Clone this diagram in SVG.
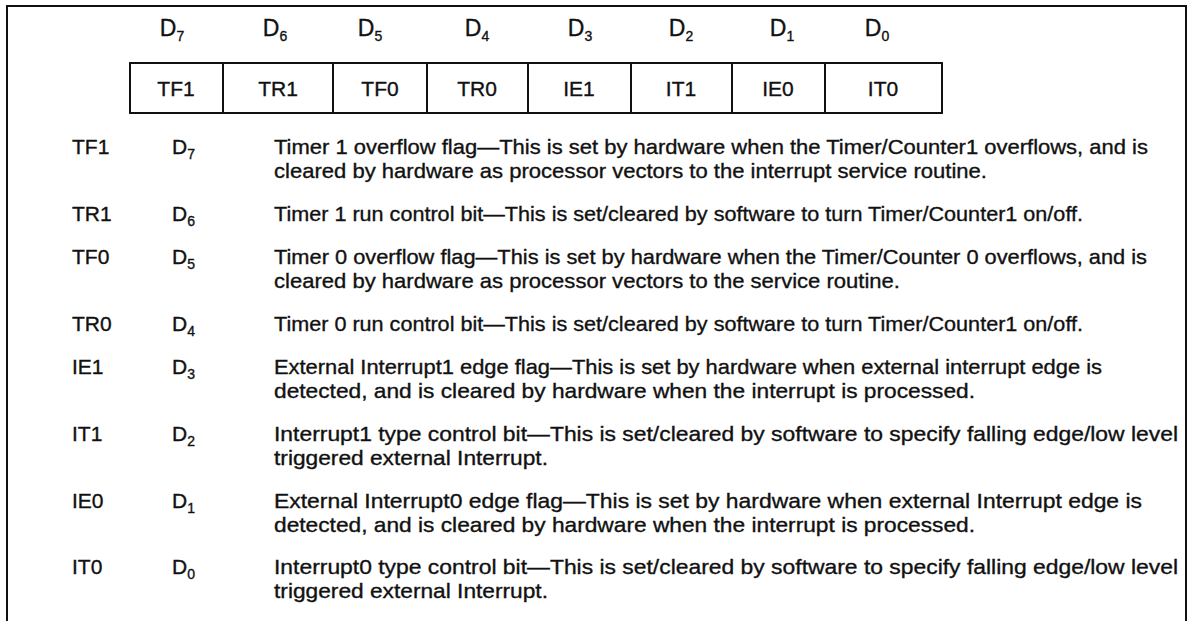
<svg xmlns="http://www.w3.org/2000/svg" width="1189" height="621" viewBox="0 0 1189 621">
  <style>
    text { font-family: "Liberation Sans", Arial, Helvetica, sans-serif; fill: #111; stroke: #111; stroke-width: 0.35; }
    .hdr { font-size: 23px; text-anchor: middle; }
    .cell { font-size: 21px; text-anchor: middle; }
    .body { font-size: 21px; }
    .sub { font-size: 14px; }
    .line { fill: none; stroke: #111; stroke-width: 2; }
  </style>

  <!-- outer frame, open at the bottom -->
  <path class="line" d="M7,621 V6 H1186 V621"/>

  <!-- bit numbers above the register -->
  <g id="bit-numbers">
    <text class="hdr" x="172" y="36">D<tspan class="sub" dy="5">7</tspan></text>
    <text class="hdr" x="275" y="36">D<tspan class="sub" dy="5">6</tspan></text>
    <text class="hdr" x="370" y="36">D<tspan class="sub" dy="5">5</tspan></text>
    <text class="hdr" x="477" y="36">D<tspan class="sub" dy="5">4</tspan></text>
    <text class="hdr" x="580" y="36">D<tspan class="sub" dy="5">3</tspan></text>
    <text class="hdr" x="681" y="36">D<tspan class="sub" dy="5">2</tspan></text>
    <text class="hdr" x="782" y="36">D<tspan class="sub" dy="5">1</tspan></text>
    <text class="hdr" x="877" y="36">D<tspan class="sub" dy="5">0</tspan></text>
  </g>

  <!-- TCON register cells -->
  <g id="register">
    <rect class="line" x="130" y="63" width="812" height="50"/>
    <path class="line" d="M223,63 V113 M333,63 V113 M427,63 V113 M528,63 V113 M631,63 V113 M732,63 V113 M825,63 V113"/>
    <g id="cell-TF1"><text class="cell" x="176" y="96">TF1</text></g>
    <g id="cell-TR1"><text class="cell" x="278" y="96">TR1</text></g>
    <g id="cell-TF0"><text class="cell" x="380" y="96">TF0</text></g>
    <g id="cell-TR0"><text class="cell" x="477" y="96">TR0</text></g>
    <g id="cell-IE1"><text class="cell" x="579" y="96">IE1</text></g>
    <g id="cell-IT1"><text class="cell" x="681" y="96">IT1</text></g>
    <g id="cell-IE0"><text class="cell" x="778" y="96">IE0</text></g>
    <g id="cell-IT0"><text class="cell" x="883" y="96">IT0</text></g>
  </g>

  <g id="connectors"/>

  <!-- bit descriptions -->
  <g id="desc-TF1">
    <text class="body" x="72" y="154">TF1</text>
    <text class="body" x="172" y="154">D<tspan class="sub" dy="5">7</tspan></text>
    <text class="body" x="274" y="154" textLength="874" lengthAdjust="spacingAndGlyphs">Timer 1 overflow flag—This is set by hardware when the Timer/Counter1 overflows, and is</text>
    <text class="body" x="274" y="178" textLength="713" lengthAdjust="spacingAndGlyphs">cleared by hardware as processor vectors to the interrupt service routine.</text>
  </g>
  <g id="desc-TR1">
    <text class="body" x="72" y="221">TR1</text>
    <text class="body" x="172" y="221">D<tspan class="sub" dy="5">6</tspan></text>
    <text class="body" x="274" y="221" textLength="809" lengthAdjust="spacingAndGlyphs">Timer 1 run control bit—This is set/cleared by software to turn Timer/Counter1 on/off.</text>
  </g>
  <g id="desc-TF0">
    <text class="body" x="72" y="264">TF0</text>
    <text class="body" x="172" y="264">D<tspan class="sub" dy="5">5</tspan></text>
    <text class="body" x="274" y="264" textLength="873" lengthAdjust="spacingAndGlyphs">Timer 0 overflow flag—This is set by hardware when the Timer/Counter 0 overflows, and is</text>
    <text class="body" x="274" y="288" textLength="626" lengthAdjust="spacingAndGlyphs">cleared by hardware as processor vectors to the service routine.</text>
  </g>
  <g id="desc-TR0">
    <text class="body" x="72" y="331">TR0</text>
    <text class="body" x="172" y="331">D<tspan class="sub" dy="5">4</tspan></text>
    <text class="body" x="274" y="331" textLength="809" lengthAdjust="spacingAndGlyphs">Timer 0 run control bit—This is set/cleared by software to turn Timer/Counter1 on/off.</text>
  </g>
  <g id="desc-IE1">
    <text class="body" x="72" y="374">IE1</text>
    <text class="body" x="172" y="374">D<tspan class="sub" dy="5">3</tspan></text>
    <text class="body" x="274" y="374" textLength="828" lengthAdjust="spacingAndGlyphs">External Interrupt1 edge flag—This is set by hardware when external interrupt edge is</text>
    <text class="body" x="274" y="398" textLength="701" lengthAdjust="spacingAndGlyphs">detected, and is cleared by hardware when the interrupt is processed.</text>
  </g>
  <g id="desc-IT1">
    <text class="body" x="72" y="441">IT1</text>
    <text class="body" x="172" y="441">D<tspan class="sub" dy="5">2</tspan></text>
    <text class="body" x="274" y="441" textLength="904" lengthAdjust="spacingAndGlyphs">Interrupt1 type control bit—This is set/cleared by software to specify falling edge/low level</text>
    <text class="body" x="274" y="465" textLength="274" lengthAdjust="spacingAndGlyphs">triggered external Interrupt.</text>
  </g>
  <g id="desc-IE0">
    <text class="body" x="72" y="508">IE0</text>
    <text class="body" x="172" y="508">D<tspan class="sub" dy="5">1</tspan></text>
    <text class="body" x="274" y="508" textLength="868" lengthAdjust="spacingAndGlyphs">External Interrupt0 edge flag—This is set by hardware when external Interrupt edge is</text>
    <text class="body" x="274" y="532" textLength="701" lengthAdjust="spacingAndGlyphs">detected, and is cleared by hardware when the interrupt is processed.</text>
  </g>
  <g id="desc-IT0">
    <text class="body" x="72" y="574">IT0</text>
    <text class="body" x="172" y="574">D<tspan class="sub" dy="5">0</tspan></text>
    <text class="body" x="274" y="574" textLength="904" lengthAdjust="spacingAndGlyphs">Interrupt0 type control bit—This is set/cleared by software to specify falling edge/low level</text>
    <text class="body" x="274" y="598" textLength="274" lengthAdjust="spacingAndGlyphs">triggered external Interrupt.</text>
  </g>
</svg>
